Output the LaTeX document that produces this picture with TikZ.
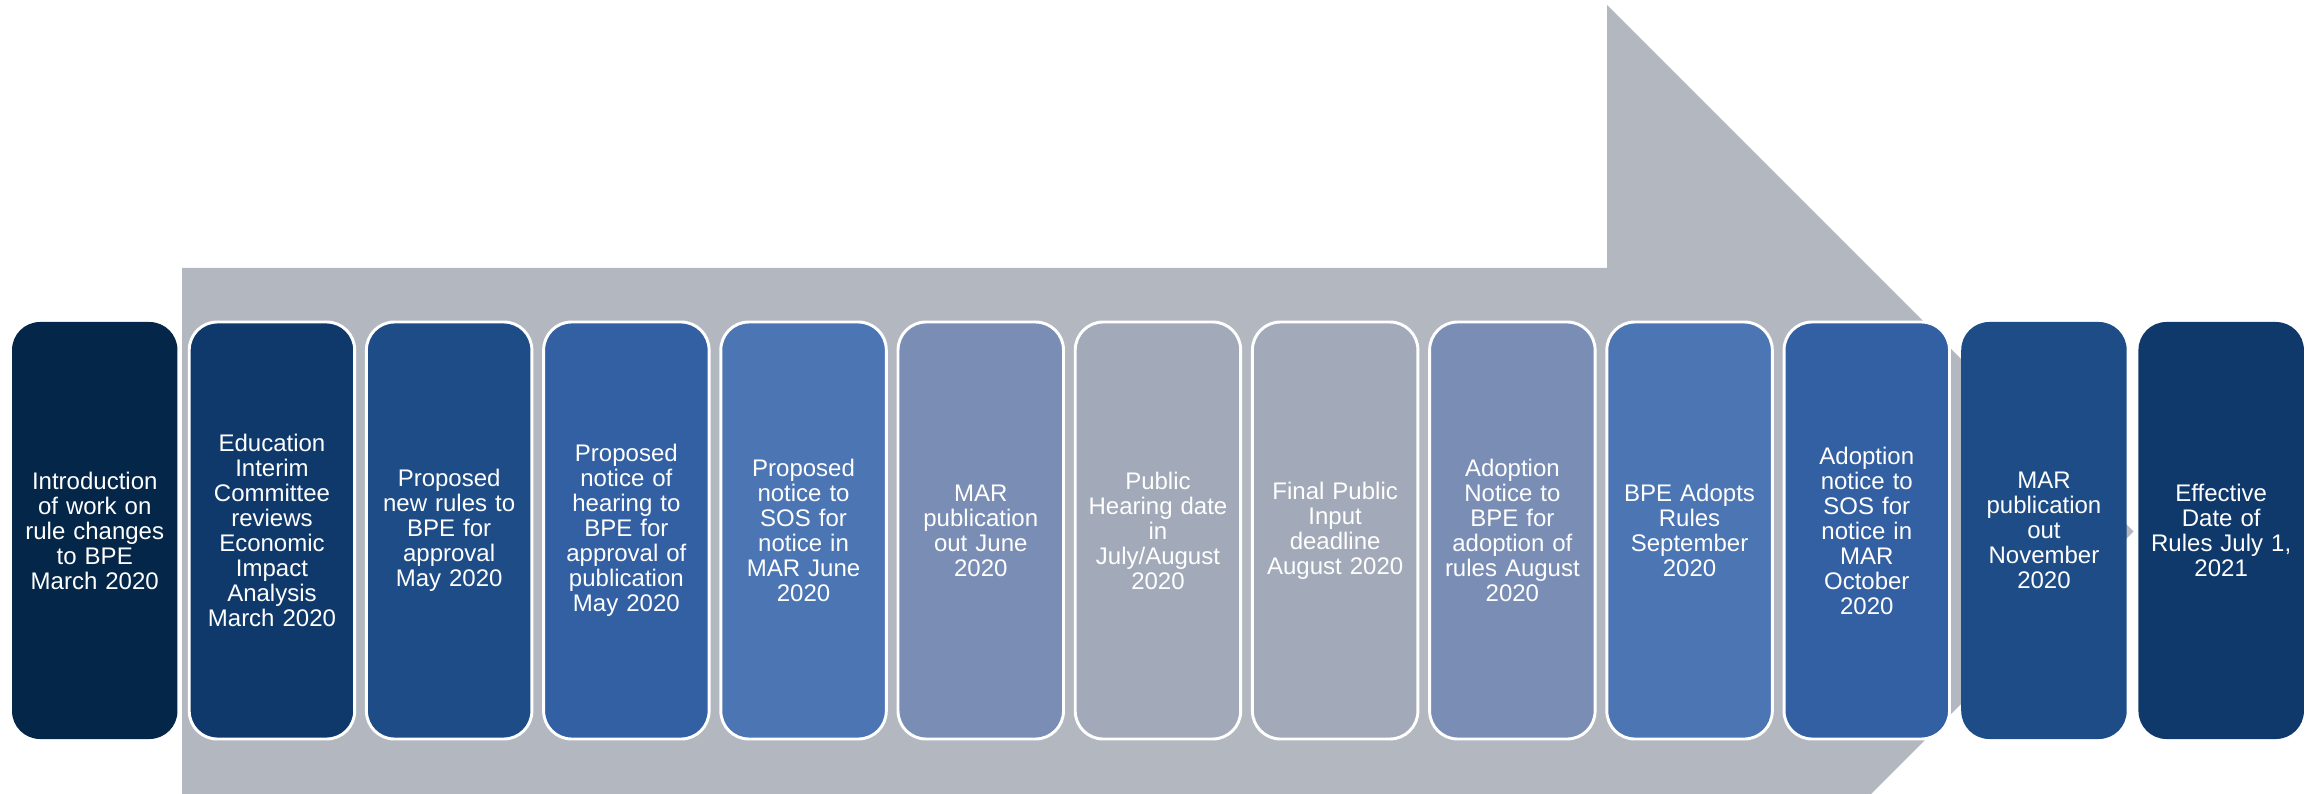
\documentclass[tikz,border=0pt]{standalone}
\usepackage{fontspec}
\setmainfont{Liberation Sans}
\usetikzlibrary{positioning}

\definecolor{tlgrey}{RGB}{179,184,192}
\definecolor{tlnavy}{RGB}{4,38,72}
\definecolor{tldeep}{RGB}{15,57,107}
\definecolor{tlblue}{RGB}{30,76,135}
\definecolor{tlmid}{RGB}{51,96,163}
\definecolor{tllight}{RGB}{76,117,179}
\definecolor{tlslate}{RGB}{122,141,180}
\definecolor{tlpale}{RGB}{162,169,184}

\begin{document}
\begin{tikzpicture}[
	x=0.75pt, y=0.75pt,
	node distance=8.8pt,
	mynode/.style = {
		rectangle, rounded corners=21pt, align=center,
		minimum width=124.1pt, minimum height=312.75pt,
		text width=118pt, inner sep=0pt, outer sep=0pt,
		font=\fontsize{18}{18.75}\selectfont, text=white},
	myframe/.style = {mynode, draw=white, line width=2.2pt}
]
\useasboundingbox (0,0) rectangle (2318,793);

% big grey arrow behind the steps
\begin{scope}
	\clip (0,0) rectangle (2318,793);
	\fill[tlgrey] (182,525) -- (1607,525) -- (1607,788) -- (2133.5,261.5)
	              -- (1607,-265) -- (1607,-2) -- (182,-2) -- cycle;
\end{scope}

\node (n1)  [mynode, fill=tlnavy] at (94.75,262.5)
                                 {Introduction\\ of work on\\ rule changes\\
                                  to BPE\\ March 2020};
\node (n2)  [myframe, fill=tldeep, right=of n1]
                                 {Education\\ Interim\\ Committee\\ reviews\\
                                  Economic\\ Impact\\ Analysis\\ March 2020};
\node (n3)  [myframe, fill=tlblue, right=of n2]
                                 {Proposed\\ new rules to\\ BPE for\\
                                  approval\\ May 2020};
\node (n4)  [myframe, fill=tlmid, right=of n3]
                                 {Proposed\\ notice of\\ hearing to\\ BPE for\\
                                  approval of\\ publication\\ May 2020};
\node (n5)  [myframe, fill=tllight, right=of n4]
                                 {Proposed\\ notice to\\ SOS for\\ notice in\\
                                  MAR June\\ 2020};
\node (n6)  [myframe, fill=tlslate, right=of n5]
                                 {MAR\\ publication\\ out June\\ 2020};
\node (n7)  [myframe, fill=tlpale, right=of n6]
                                 {Public\\ Hearing date\\ in\\ July/August\\ 2020};
\node (n8)  [myframe, fill=tlpale, right=of n7]
                                 {Final Public\\ Input\\ deadline\\ August 2020};
\node (n9)  [myframe, fill=tlslate, right=of n8]
                                 {Adoption\\ Notice to\\ BPE for\\ adoption of\\
                                  rules August\\ 2020};
\node (n10) [myframe, fill=tllight, right=of n9]
                                 {BPE Adopts\\ Rules\\ September\\ 2020};
\node (n11) [myframe, fill=tlmid, right=of n10]
                                 {Adoption\\ notice to\\ SOS for\\ notice in\\
                                  MAR\\ October\\ 2020};
\node (n12) [mynode, fill=tlblue, right=of n11]
                                 {MAR\\ publication\\ out\\ November\\ 2020};
\node (n13) [mynode, fill=tldeep, right=of n12]
                                 {Effective\\ Date of\\ Rules July 1,\\ 2021};
\end{tikzpicture}
\end{document}
